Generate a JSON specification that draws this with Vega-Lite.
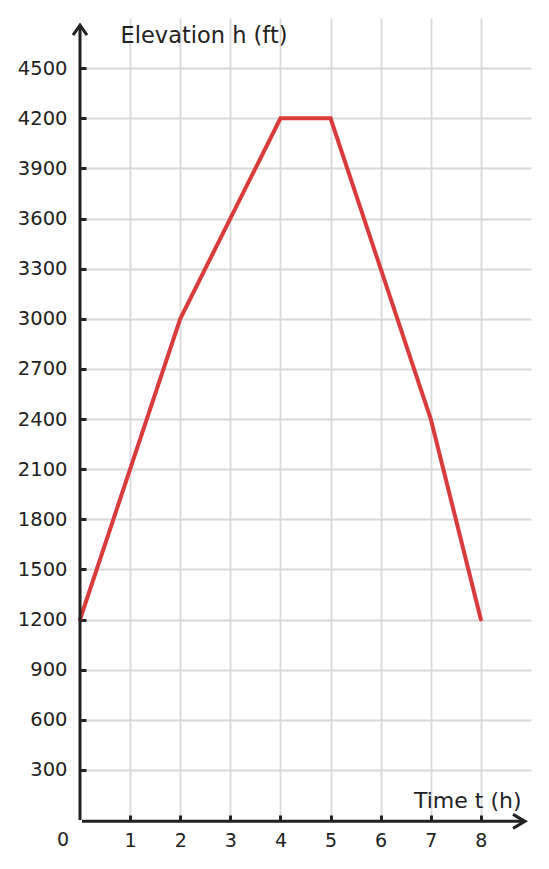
{
  "$schema": "https://vega.github.io/schema/vega-lite/v6.json",
  "width": 451,
  "height": 802,
  "autosize": "none",
  "padding": {"left": 80, "top": 18, "right": 18, "bottom": 49},
  "background": "white",
  "config": {
    "view": {"stroke": null},
    "font": "DejaVu Sans",
    "axis": {
      "labelFont": "DejaVu Sans",
      "titleFont": "DejaVu Sans",
      "labelColor": "#222222",
      "titleColor": "#222222",
      "titleFontWeight": "normal",
      "gridColor": "#d8d8d8",
      "gridWidth": 1.8,
      "domain": false,
      "tickColor": "#222222",
      "tickWidth": 3,
      "format": "d"
    }
  },
  "data": {
    "values": [
      {"t": 0, "h": 1200},
      {"t": 2, "h": 3000},
      {"t": 4, "h": 4200},
      {"t": 5, "h": 4200},
      {"t": 7, "h": 2400},
      {"t": 8, "h": 1200}
    ]
  },
  "layer": [
    {
      "mark": {"type": "line", "color": "#d93b3b", "strokeWidth": 4, "strokeCap": "round", "strokeJoin": "miter"},
      "encoding": {
        "x": {
          "field": "t",
          "type": "quantitative",
          "scale": {"domain": [0, 9], "nice": false, "zero": false},
          "axis": {
            "values": [1, 2, 3, 4, 5, 6, 7, 8],
            "format": "d",
            "title": "Time t (h)",
            "titleFontSize": 22,
            "titleAlign": "right",
            "titleAnchor": null,
            "titleX": 441,
            "titleY": -20,
            "titleBaseline": "middle",
            "labelFontSize": 19,
            "tickSize": -5,
            "labelPadding": 25,
            "labelBaseline": "middle",
            "labelFlush": false
          }
        },
        "y": {
          "field": "h",
          "type": "quantitative",
          "scale": {"domain": [0, 4800], "nice": false, "zero": false},
          "axis": {
            "values": [300, 600, 900, 1200, 1500, 1800, 2100, 2400, 2700, 3000, 3300, 3600, 3900, 4200, 4500],
            "format": "d",
            "title": "Elevation h (ft)",
            "titleFontSize": 22.5,
            "titleAngle": 0,
            "titleAlign": "left",
            "titleAnchor": null,
            "titleX": 40,
            "titleY": 17,
            "titleBaseline": "middle",
            "labelFontSize": 19.5,
            "tickSize": -6,
            "labelPadding": 19,
            "labelFlush": false
          }
        }
      }
    },
    {
      "data": {"values": [{}]},
      "mark": {"type": "rule", "color": "#222222", "strokeWidth": 3},
      "encoding": {
        "x": {"datum": 0, "type": "quantitative"},
        "y": {"datum": 0, "type": "quantitative"},
        "y2": {"datum": 4752}
      }
    },
    {
      "data": {"values": [{}]},
      "mark": {"type": "rule", "color": "#222222", "strokeWidth": 3},
      "encoding": {
        "x": {"datum": 0.04, "type": "quantitative"},
        "x2": {"datum": 8.86},
        "y": {"datum": -8, "type": "quantitative"}
      }
    },
    {
      "data": {"values": [{}]},
      "mark": {"type": "point", "shape": "M-0.7,1 L0,0 L0.7,1", "size": 400, "filled": false, "stroke": "#222222", "strokeWidth": 3, "opacity": 1},
      "encoding": {
        "x": {"datum": 0, "type": "quantitative"},
        "y": {"datum": 4757, "type": "quantitative"}
      }
    },
    {
      "data": {"values": [{}]},
      "mark": {"type": "point", "shape": "M-1.2,-0.7 L0,0 L-1.2,0.7", "size": 400, "filled": false, "stroke": "#222222", "strokeWidth": 3, "opacity": 1},
      "encoding": {
        "x": {"datum": 8.88, "type": "quantitative"},
        "y": {"datum": -8, "type": "quantitative"}
      }
    },
    {
      "data": {"values": [{}]},
      "mark": {"type": "text", "text": "0", "fontSize": 19, "color": "#222222", "dx": -17, "dy": 20, "baseline": "middle", "align": "center"},
      "encoding": {
        "x": {"datum": 0, "type": "quantitative"},
        "y": {"datum": 0, "type": "quantitative"}
      }
    }
  ]
}
